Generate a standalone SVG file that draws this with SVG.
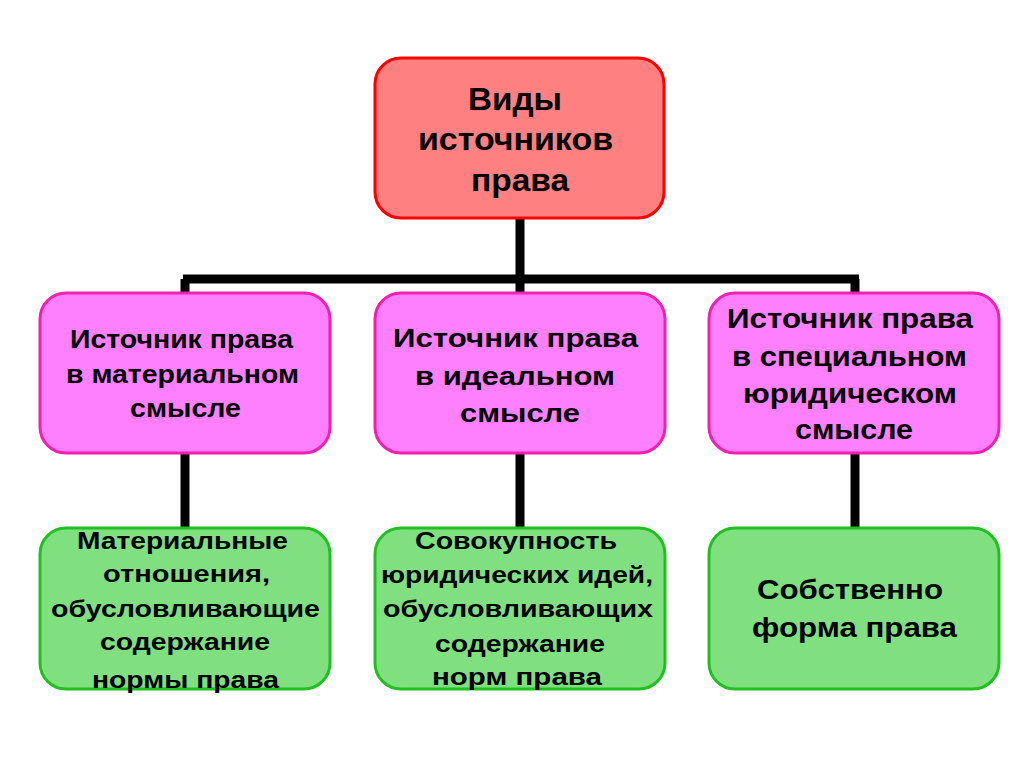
<svg xmlns="http://www.w3.org/2000/svg" width="1024" height="767" viewBox="0 0 1024 767">
<style>
.t{font-family:"Liberation Sans",Arial,sans-serif;font-weight:bold;fill:#000;text-anchor:middle}
.red{fill:#FF8080;stroke:#FF0000;stroke-width:3}
.pink{fill:#FF80FF;stroke:#F020B0;stroke-width:3}
.green{fill:#80E080;stroke:#20C020;stroke-width:3}
.c{stroke:#000;stroke-width:9;fill:none}
</style>
<rect width="1024" height="767" fill="#fff"/>
<g id="connectors">
<path class="c" d="M520 218V293M183 279H859M185 279V293M855 279V293M185 453V528M520 453V528M855 453V528"/>
</g>
<g id="root">
<rect class="red" x="375" y="58" width="289" height="160" rx="26"/>
<text class="t" font-size="32" x="515" y="110" textLength="94" lengthAdjust="spacingAndGlyphs">Виды</text>
<text class="t" font-size="32" x="515.5" y="150" textLength="195" lengthAdjust="spacingAndGlyphs">источников</text>
<text class="t" font-size="32" x="520" y="191" textLength="98" lengthAdjust="spacingAndGlyphs">права</text>
</g>
<g id="p1">
<rect class="pink" x="40" y="293" width="290" height="160" rx="26"/>
<text class="t" font-size="25" x="181.5" y="348" textLength="223" lengthAdjust="spacingAndGlyphs">Источник права</text>
<text class="t" font-size="25" x="182.5" y="383" textLength="233" lengthAdjust="spacingAndGlyphs">в материальном</text>
<text class="t" font-size="25" x="185.5" y="417" textLength="111" lengthAdjust="spacingAndGlyphs">смысле</text>
</g>
<g id="p2">
<rect class="pink" x="375" y="293" width="290" height="160" rx="26"/>
<text class="t" font-size="26" x="515.5" y="347" textLength="245" lengthAdjust="spacingAndGlyphs">Источник права</text>
<text class="t" font-size="26" x="515" y="385" textLength="200" lengthAdjust="spacingAndGlyphs">в идеальном</text>
<text class="t" font-size="26" x="520" y="422" textLength="120" lengthAdjust="spacingAndGlyphs">смысле</text>
</g>
<g id="p3">
<rect class="pink" x="709" y="293" width="290" height="160" rx="26"/>
<text class="t" font-size="27" x="850" y="328" textLength="246" lengthAdjust="spacingAndGlyphs">Источник права</text>
<text class="t" font-size="27" x="849.5" y="366" textLength="235" lengthAdjust="spacingAndGlyphs">в специальном</text>
<text class="t" font-size="27" x="850" y="403" textLength="214" lengthAdjust="spacingAndGlyphs">юридическом</text>
<text class="t" font-size="27" x="854" y="439" textLength="118" lengthAdjust="spacingAndGlyphs">смысле</text>
</g>
<g id="g1">
<rect class="green" x="40" y="528" width="290" height="161" rx="26"/>
<text class="t" font-size="24" x="182.5" y="549" textLength="211" lengthAdjust="spacingAndGlyphs">Материальные</text>
<text class="t" font-size="24" x="186.5" y="582" textLength="167" lengthAdjust="spacingAndGlyphs">отношения,</text>
<text class="t" font-size="24" x="185.5" y="617" textLength="269" lengthAdjust="spacingAndGlyphs">обусловливающие</text>
<text class="t" font-size="24" x="185" y="650" textLength="170" lengthAdjust="spacingAndGlyphs">содержание</text>
<text class="t" font-size="24" x="185.5" y="688" textLength="187" lengthAdjust="spacingAndGlyphs">нормы права</text>
</g>
<g id="g2">
<rect class="green" x="375" y="528" width="290" height="161" rx="26"/>
<text class="t" font-size="24" x="516" y="549" textLength="202" lengthAdjust="spacingAndGlyphs">Совокупность</text>
<text class="t" font-size="24" x="517" y="583" textLength="272" lengthAdjust="spacingAndGlyphs">юридических идей,</text>
<text class="t" font-size="24" x="518" y="617" textLength="270" lengthAdjust="spacingAndGlyphs">обусловливающих</text>
<text class="t" font-size="24" x="520" y="652" textLength="170" lengthAdjust="spacingAndGlyphs">содержание</text>
<text class="t" font-size="24" x="517" y="685" textLength="170" lengthAdjust="spacingAndGlyphs">норм права</text>
</g>
<g id="g3">
<rect class="green" x="709" y="528" width="290" height="161" rx="26"/>
<text class="t" font-size="28" x="850" y="599" textLength="186" lengthAdjust="spacingAndGlyphs">Собственно</text>
<text class="t" font-size="28" x="854.5" y="637" textLength="205" lengthAdjust="spacingAndGlyphs">форма права</text>
</g>
</svg>
